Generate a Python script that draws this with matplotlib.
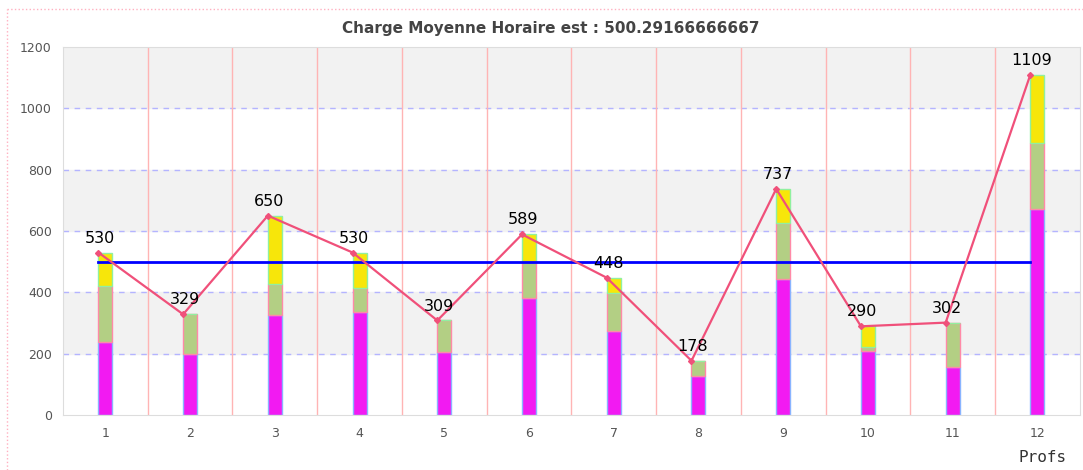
import numpy as np
import matplotlib
matplotlib.use("Agg")
import matplotlib.pyplot as plt
from matplotlib.lines import Line2D

# Charge horaire par prof, en trois tranches empilees
profs = ["1", "2", "3", "4", "5", "6", "7", "8", "9", "10", "11", "12"]
tranche1 = [238, 200, 326, 336, 206, 382, 275, 128, 444, 210, 159, 671]
tranche2 = [182, 129, 103, 79, 103, 117, 123, 50, 183, 12, 143, 214]
tranche3 = [110, 0, 221, 115, 0, 90, 50, 0, 110, 68, 0, 224]
totaux = [530, 329, 650, 530, 309, 589, 448, 178, 737, 290, 302, 1109]
moyenne = 500.29166666667

fig = plt.figure(figsize=(10.83, 4.70), dpi=100)
ax = fig.add_axes([0.0582, 0.116, 0.9388, 0.785])

x = np.arange(1, len(profs) + 1)
w = 0.165

# bandes de fond
for y0 in (200, 600, 1000):
    ax.axhspan(y0, y0 + 200, color="#f2f2f2", zorder=0)
for y in (200, 400, 600, 800, 1000):
    ax.axhline(y, color="#b4b4ff", lw=1, ls=(0, (4, 4)), zorder=1)
for xv in x[:-1] + 0.5:
    ax.axvline(xv, color="#ffb4b4", lw=1, zorder=1)

b1 = np.array(tranche1)
b2 = np.array(tranche2)
b3 = np.array(tranche3)
ax.bar(x, b1, w, color="#f21af2", edgecolor="#8ab4ff", lw=1, zorder=2)
ax.bar(x, b2, w, bottom=b1, color="#b3cf84", edgecolor="#ff8aa8", lw=1, zorder=2)
ax.bar(x, b3, w, bottom=b1 + b2, color="#f7e60a", edgecolor="#90f0a0", lw=1, zorder=2)

xl = x - w / 2
ax.plot([xl[0], xl[-1]], [moyenne, moyenne], color="#0000ff", lw=2, zorder=3)
ax.plot(xl, totaux, color="#f0507a", lw=1.6, marker="D", ms=3, zorder=4)
for xi, t in zip(xl, totaux):
    ax.annotate(str(t), (xi, t), xytext=(1, 5), textcoords="offset points",
                ha="center", va="bottom", fontsize=11.5, color="black", zorder=5)

ax.set_xlim(0.5, 12.5)
ax.set_ylim(0, 1200)
ax.set_yticks(range(0, 1201, 200))
ax.set_xticks(x)
ax.set_xticklabels(profs)
ax.tick_params(length=0, labelsize=9, colors="#555555", pad=8)
for s in ax.spines.values():
    s.set_color("#dddddd")

fig.text(0.509, 0.94, "Charge Moyenne Horaire est : " + str(moyenne),
         ha="center", va="center", fontsize=11, fontweight="bold", color="#444444")
fig.text(0.94, 0.016, "Profs", fontsize=11.5, family="DejaVu Sans Mono", color="#333333")

# cadre pointille autour du graphique
fig.add_artist(Line2D([7 / 1083, 1], [1 - 9 / 470, 1 - 9 / 470], color="#ffb0c0", lw=1, ls=":"))
fig.add_artist(Line2D([7 / 1083, 7 / 1083], [0, 1 - 9 / 470], color="#ffb0c0", lw=1, ls=":"))

fig.savefig("out.png", dpi=100)
